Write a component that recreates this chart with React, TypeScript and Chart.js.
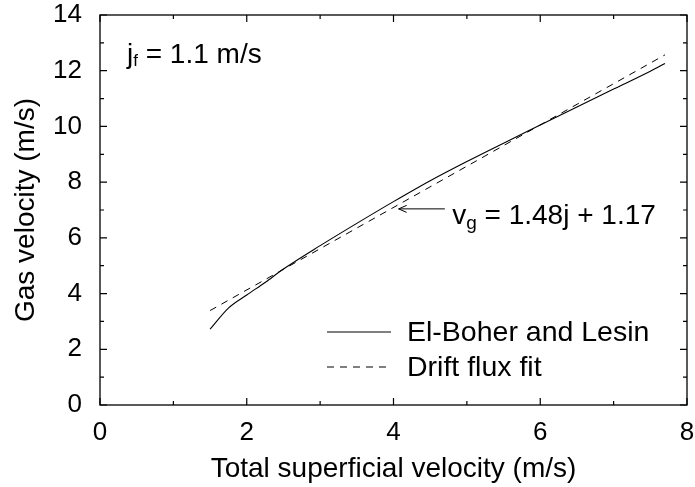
import React, { useEffect, useRef } from "react";
import { Chart, registerables } from "chart.js";

Chart.register(...registerables);

// ---- data ----
const jMeasured = [1.5, 1.75, 2.0, 2.25, 2.5, 3.0, 3.5, 4.0, 4.5, 5.0, 5.5, 6.0, 6.5, 7.0, 7.5, 7.7];
const vgMeasured = [2.72, 3.48, 3.95, 4.4, 4.88, 5.72, 6.52, 7.3, 8.05, 8.74, 9.4, 10.05, 10.7, 11.34, 11.98, 12.26];
const jFit = [1.5, 7.7];
const vgFit = [3.39, 12.57];
const xTickValues = [0, 2, 4, 6, 8];
const yTickValues = [0, 2, 4, 6, 8, 10, 12, 14];
const seriesLabels = ["El-Boher and Lesin", "Drift flux fit"];
const xTitle = "Total superficial velocity (m/s)";
const yTitle = "Gas velocity (m/s)";
const fitMain = "v";
const fitSub = "g";
const fitRest = " = 1.48j + 1.17";
const noteMain = "j";
const noteSub = "f";
const noteRest = " = 1.1 m/s";
// annotation anchors in data units
const arrowTip = { x: 4.07, y: 7.04 };
const arrowTail = { x: 4.7, y: 7.04 };
const fitTextAt = { x: 4.8, y: 6.5 };

const FONT = "'Liberation Sans', Arial, Helvetica, sans-serif";

const decorPlugin = {
  id: "decor",
  afterDraw(chart: any) {
    const ctx = chart.ctx as CanvasRenderingContext2D;
    const { left, right, top, bottom } = chart.chartArea;
    const xs = chart.scales.x;
    const ys = chart.scales.y;
    ctx.save();
    // frame
    ctx.strokeStyle = "#000";
    ctx.lineWidth = 1.3;
    ctx.strokeRect(left, top, right - left, bottom - top);
    // inward ticks
    ctx.lineWidth = 1.2;
    ctx.beginPath();
    for (let v = 0; v <= 8; v++) {
      const x = xs.getPixelForValue(v);
      const len = v % 2 === 0 ? 7 : 4;
      ctx.moveTo(x, bottom);
      ctx.lineTo(x, bottom - len);
      ctx.moveTo(x, top);
      ctx.lineTo(x, top + len);
    }
    for (let v = 0; v <= 14; v++) {
      const y = ys.getPixelForValue(v);
      const len = v % 2 === 0 ? 7 : 4;
      ctx.moveTo(left, y);
      ctx.lineTo(left + len, y);
      ctx.moveTo(right, y);
      ctx.lineTo(right - len, y);
    }
    ctx.stroke();

    ctx.fillStyle = "#000";
    // axis titles
    ctx.font = `28px ${FONT}`;
    ctx.textAlign = "center";
    ctx.textBaseline = "alphabetic";
    ctx.fillText(xTitle, (left + right) / 2, bottom + 72);
    ctx.save();
    ctx.translate(34, (top + bottom) / 2);
    ctx.rotate(-Math.PI / 2);
    ctx.fillText(yTitle, 0, 0);
    ctx.restore();

    // legend
    const lx0 = left + 227;
    const lx1 = left + 291;
    const ly1 = top + 317;
    const ly2 = top + 352;
    ctx.lineWidth = 1;
    ctx.beginPath();
    ctx.moveTo(lx0, ly1);
    ctx.lineTo(lx1, ly1);
    ctx.stroke();
    ctx.setLineDash([7, 6]);
    ctx.beginPath();
    ctx.moveTo(lx0, ly2);
    ctx.lineTo(lx1, ly2);
    ctx.stroke();
    ctx.setLineDash([]);
    ctx.font = `28.5px ${FONT}`;
    ctx.textAlign = "left";
    ctx.textBaseline = "middle";
    ctx.fillText(seriesLabels[0], left + 307, ly1 + 1);
    ctx.fillText(seriesLabels[1], left + 307, ly2 + 1);

    // j_f note
    ctx.textBaseline = "alphabetic";
    let nx = left + 27;
    const ny = top + 48;
    ctx.font = `28px ${FONT}`;
    ctx.fillText(noteMain, nx, ny);
    nx += ctx.measureText(noteMain).width;
    ctx.font = `17px ${FONT}`;
    ctx.fillText(noteSub, nx, ny + 3);
    nx += ctx.measureText(noteSub).width;
    ctx.font = `28px ${FONT}`;
    ctx.fillText(noteRest, nx, ny);

    // fit equation + arrow
    const tx = xs.getPixelForValue(arrowTip.x);
    const ty = ys.getPixelForValue(arrowTip.y);
    const sx = xs.getPixelForValue(arrowTail.x);
    ctx.lineWidth = 1;
    ctx.beginPath();
    ctx.moveTo(sx, ty);
    ctx.lineTo(tx, ty);
    ctx.moveTo(tx + 8, ty - 3.5);
    ctx.lineTo(tx, ty);
    ctx.lineTo(tx + 8, ty + 3.5);
    ctx.stroke();
    let fx = xs.getPixelForValue(fitTextAt.x);
    const fy = ys.getPixelForValue(fitTextAt.y);
    ctx.font = `28px ${FONT}`;
    ctx.fillText(fitMain, fx, fy);
    fx += ctx.measureText(fitMain).width;
    ctx.font = `19px ${FONT}`;
    ctx.fillText(fitSub, fx, fy + 5);
    fx += ctx.measureText(fitSub).width;
    ctx.font = `28px ${FONT}`;
    ctx.fillText(fitRest, fx, fy);
    ctx.restore();
  },
};

export default function App() {
  const ref = useRef<HTMLCanvasElement | null>(null);
  useEffect(() => {
    document.body.style.margin = "0";
    if (!ref.current) return;
    const chart = new Chart(ref.current, {
      type: "line",
      data: {
        datasets: [
          {
            label: seriesLabels[0],
            data: jMeasured.map((x, i) => ({ x, y: vgMeasured[i] })),
            borderColor: "#000",
            borderWidth: 1.1,
            pointRadius: 0,
            cubicInterpolationMode: "monotone",
            fill: false,
          },
          {
            label: seriesLabels[1],
            data: jFit.map((x, i) => ({ x, y: vgFit[i] })),
            borderColor: "#000",
            borderWidth: 1,
            borderDash: [7, 6],
            pointRadius: 0,
            fill: false,
          },
        ],
      },
      options: {
        responsive: false,
        animation: false,
        layout: { padding: { top: 15, right: 8, left: 0, bottom: 0 } },
        plugins: { legend: { display: false }, tooltip: { enabled: false } },
        scales: {
          x: {
            type: "linear",
            min: 0,
            max: 8,
            afterBuildTicks: (s: any) => {
              s.ticks = xTickValues.map((v) => ({ value: v }));
            },
            afterFit: (s: any) => {
              s.height = 82;
              s.paddingLeft = 0;
              s.paddingRight = 0;
            },
            grid: { display: false, drawTicks: false },
            border: { display: false },
            ticks: {
              color: "#000",
              padding: 12,
              maxRotation: 0,
              font: { family: FONT, size: 26 },
            },
          },
          y: {
            type: "linear",
            min: 0,
            max: 14,
            afterBuildTicks: (s: any) => {
              s.ticks = yTickValues.map((v) => ({ value: v }));
            },
            afterFit: (s: any) => {
              s.width = 100;
              s.paddingTop = 0;
              s.paddingBottom = 0;
            },
            grid: { display: false, drawTicks: false },
            border: { display: false },
            ticks: {
              color: "#000",
              padding: 18,
              font: { family: FONT, size: 26 },
            },
          },
        },
      },
      plugins: [decorPlugin],
    } as any);
    return () => chart.destroy();
  }, []);
  return <canvas ref={ref} width={695} height={487} style={{ display: "block" }} />;
}
